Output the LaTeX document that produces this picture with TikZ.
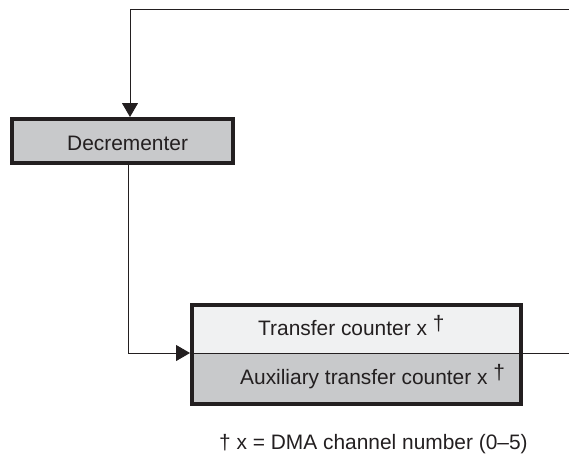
\documentclass[tikz,border=0pt]{standalone}
\usepackage{fontspec}
\setmainfont{Liberation Sans}
\usetikzlibrary{arrows.meta}
\definecolor{ink}{HTML}{231F20}
\definecolor{boxgrey}{HTML}{C8C9CB}
\definecolor{boxlight}{HTML}{F0F1F2}
\begin{document}
\begin{tikzpicture}[x=1pt,y=-1pt,
  every node/.style={font=\fontsize{20.9}{25}\selectfont, text=ink},
  thickbox/.style={draw=ink, line width=3.6pt},
  wire/.style={draw=ink, line width=1pt},
  arr/.style={wire, -{Triangle[length=14pt,width=16pt]}},
  lbl/.style={anchor=base west, inner sep=0pt}]
\useasboundingbox (0,0) rectangle (569,453);
% Decrementer
\node[thickbox, fill=boxgrey, minimum width=221pt, minimum height=44pt, inner sep=0pt] (dec) at (122.5,141) {};
\node[lbl] (dect) at (67,150) {Decrementer};
% counter block
\fill[boxlight] (192,305) rectangle (521,353);
\fill[boxgrey] (192,353) rectangle (521,404);
\coordinate (inL) at (190,353);
\coordinate (outL) at (192,353);
\coordinate (outR) at (523,353);
\coordinate (rend) at (569,353);
\draw[wire] (outL) -- (outR);
\draw[thickbox] (192,305) rectangle (521,404);
\node[lbl] (tc) at (258,335) {Transfer counter x \raisebox{5pt}{†}};
\node[lbl] (atc) at (240,384) {Auxiliary transfer counter x \raisebox{5pt}{†}};
% connectors
\coordinate (tr) at (569,9);
\coordinate (tl) at (130,9);
\coordinate (decin) at (130,117);
\draw[arr] (tr) -- (tl) -- (decin);
\coordinate (decout) at (128,165);
\coordinate (bl) at (128,353);
\draw[arr] (decout) -- (bl) -- (inL);
\draw[wire] (outR) -- (rend);
% footnote
\node[lbl] (fn) at (219,449) {† x = DMA channel number (0–5)};
\end{tikzpicture}
\end{document}
